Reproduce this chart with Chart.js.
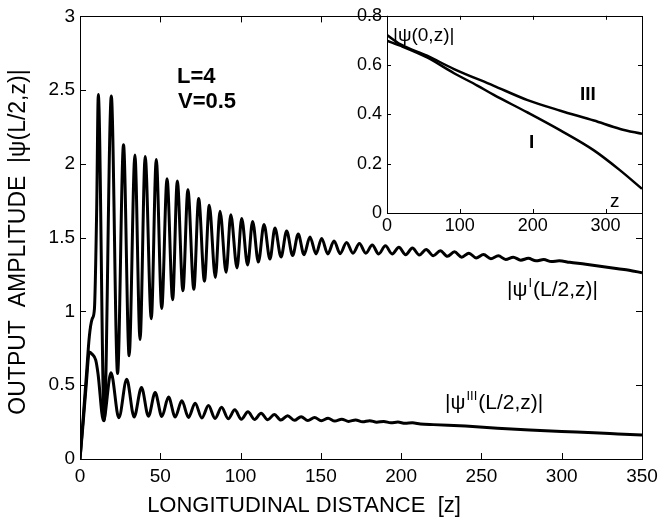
<!DOCTYPE html>
<html>
<head>
<meta charset="utf-8">
<script src="https://cdn.jsdelivr.net/npm/chart.js@4.4.1/dist/chart.umd.min.js"></script>
<style>
  body { margin: 0; background: #fff; }
  #wrap { position: relative; width: 664px; height: 518px; }
  #main { position: absolute; left: 0; top: 0; }
  #inset { position: absolute; left: 345px; top: 0; }
</style>
</head>
<body>
<div id="wrap">
  <canvas id="main" width="664" height="518"></canvas>
  <canvas id="inset" width="319" height="240"></canvas>
</div>
<script>
'use strict';

// main plot, |psi^I(L/2,z)| : peaks and troughs
const zI = [0, 2, 4, 5.8, 7.6, 9, 10.4, 11.4, 15.1, 19.5, 23.4, 27.1, 30.6, 34.2, 37.4, 40.6, 44.4, 47.5,
  50.9, 54.2, 57.7, 60.6, 64.1, 67.2, 70.9, 73.9, 77.5, 80.5, 84.3, 87.2, 91, 93.9, 97.8, 100.7,
  104.4, 107.5, 111.1, 114.6, 118.3, 121.4, 125.2, 128.7, 132.4, 135.9, 139.5, 143.2, 147, 150.5,
  154.3, 158.2, 162, 166, 170, 174, 178, 182, 186, 190.2, 194.4, 198.6, 202.8, 207, 211.3, 215.6,
  220, 224.4, 228.8, 233.2, 237.7, 242.2, 246.7, 251.3, 255.9, 260.5, 265.1, 269.8, 274.5, 279.2,
  284, 288.8, 293.6, 298.4, 305, 315, 325, 335, 342, 350];
const ampI = [0, 0.28, 0.57, 0.83, 0.95, 1.02, 1.7, 2.47, 0.26, 2.46, 0.58, 2.13, 0.70, 2.06, 0.81, 2.05, 0.95, 2.03,
  1.02, 1.90, 1.08, 1.885, 1.14, 1.825, 1.15, 1.765, 1.205, 1.72, 1.23, 1.68, 1.265, 1.655, 1.295, 1.63,
  1.315, 1.61, 1.335, 1.59, 1.355, 1.565, 1.37, 1.545, 1.38, 1.525, 1.385, 1.505, 1.39, 1.495,
  1.39, 1.478, 1.392, 1.468, 1.395, 1.46, 1.395, 1.45, 1.39, 1.445, 1.39, 1.435, 1.385, 1.43, 1.383, 1.42,
  1.378, 1.412, 1.374, 1.404, 1.368, 1.395, 1.363, 1.386, 1.358, 1.377, 1.353, 1.368, 1.348, 1.36,
  1.343, 1.352, 1.338, 1.343, 1.333, 1.32, 1.305, 1.29, 1.28, 1.262];

// main plot, |psi^III(L/2,z)|
const zIII = [0, 2, 4, 5.8, 7.6, 9.8, 11.2, 14.6, 19.3, 24.2, 29.1, 33.7, 38.3, 42.6, 46.8, 51, 55.1,
  59.3, 63.4, 67.6, 71.7, 75.9, 80, 84.1, 88.2, 92.3, 96.4, 100.5, 104.6, 108.7, 112.8, 116.9, 121,
  125.1, 129.3, 133.5, 137.7, 141.9, 146.1, 150.3, 154.5, 158.7, 163, 167.3, 171.6, 176, 180.4,
  184.8, 189.2, 193.6, 198, 202.5, 207, 212, 220, 240, 260, 280, 300, 320, 335, 350];
const ampIII = [0, 0.25, 0.52, 0.725, 0.71, 0.67, 0.58, 0.26, 0.585, 0.28, 0.54, 0.285, 0.485, 0.29, 0.45, 0.288, 0.42,
  0.285, 0.395, 0.282, 0.378, 0.278, 0.362, 0.275, 0.35, 0.273, 0.333, 0.27, 0.32, 0.268, 0.31, 0.266, 0.302,
  0.264, 0.293, 0.262, 0.287, 0.261, 0.282, 0.259, 0.276, 0.257, 0.27, 0.255, 0.265, 0.252, 0.26,
  0.249, 0.255, 0.245, 0.25, 0.242, 0.245, 0.238, 0.233, 0.223, 0.209, 0.197, 0.187, 0.178, 0.17, 0.162];

// inset, |psi(0,z)|
const zInI = [0, 18, 55, 92, 124, 146, 192, 238, 284, 320, 350];
const ampInI = [0.699, 0.679, 0.631, 0.567, 0.517, 0.48, 0.409, 0.335, 0.254, 0.173, 0.098];
const zInIII = [0, 18, 55, 92, 146, 192, 238, 284, 320, 350];
const ampInIII = [0.722, 0.685, 0.638, 0.584, 0.517, 0.459, 0.415, 0.375, 0.341, 0.321];

const FONT = "'Liberation Sans', Arial, Helvetica, sans-serif";

function toPoints(xs, ys) {
  let pts = [];
  for (let i = 0; i < xs.length; i++) {
    pts.push({ x: xs[i], y: ys[i] });
  }
  return pts;
}

function lineSet(xs, ys, w) {
  return {
    data: toPoints(xs, ys),
    borderColor: '#000',
    borderWidth: w,
    pointRadius: 0,
    fill: false,
    cubicInterpolationMode: 'monotone'
  };
}

// box round the plot area, with MATLAB style ticks pointing inwards on all four sides
function boxPlugin(len) {
  return {
    id: 'box',
    beforeDraw(chart) {
      const a = chart.chartArea;
      const ctx = chart.ctx;
      ctx.save();
      ctx.fillStyle = '#fff';
      ctx.fillRect(a.left, a.top, a.right - a.left, a.bottom - a.top);
      ctx.restore();
    },
    afterDraw(chart) {
      const a = chart.chartArea;
      const ctx = chart.ctx;
      const sx = chart.scales.x;
      const sy = chart.scales.y;
      ctx.save();
      ctx.strokeStyle = '#000';
      ctx.lineWidth = 1;
      ctx.beginPath();
      sx.ticks.forEach(t => {
        const px = Math.round(sx.getPixelForValue(t.value)) + 0.5;
        ctx.moveTo(px, a.bottom);
        ctx.lineTo(px, a.bottom - len);
        ctx.moveTo(px, a.top);
        ctx.lineTo(px, a.top + len);
      });
      sy.ticks.forEach(t => {
        const py = Math.round(sy.getPixelForValue(t.value)) + 0.5;
        ctx.moveTo(a.left, py);
        ctx.lineTo(a.left + len, py);
        ctx.moveTo(a.right, py);
        ctx.lineTo(a.right - len, py);
      });
      ctx.stroke();
      ctx.strokeRect(Math.round(a.left) + 0.5, Math.round(a.top) + 0.5,
        Math.round(a.right - a.left), Math.round(a.bottom - a.top));
      ctx.restore();
    }
  };
}

// |psi^sup(L/2,z)| with a small raised index
function psiLabel(ctx, x, y, sup, size) {
  ctx.font = size + 'px ' + FONT;
  ctx.fillText('|\u03c8', x, y);
  x += ctx.measureText('|\u03c8').width + 1;
  ctx.font = Math.round(size * 0.62) + 'px ' + FONT;
  ctx.fillText(sup, x, y - size * 0.42);
  x += ctx.measureText(sup).width + 1;
  ctx.font = size + 'px ' + FONT;
  ctx.fillText('(L/2,z)|', x, y);
}

const mainText = {
  id: 'mainText',
  afterDraw(chart) {
    const ctx = chart.ctx;
    ctx.save();
    ctx.fillStyle = '#000';
    ctx.textBaseline = 'alphabetic';

    ctx.textAlign = 'center';
    ctx.font = '22px ' + FONT;
    ctx.fillText('LONGITUDINAL DISTANCE  [z]', 304, 512);

    ctx.save();
    ctx.translate(25, 242);
    ctx.rotate(-Math.PI / 2);
    ctx.font = '23px ' + FONT;
    ctx.fillText('OUTPUT  AMPLITUDE  |\u03c8(L/2,z)|', 0, 0);
    ctx.restore();

    ctx.textAlign = 'left';
    ctx.font = 'bold 22px ' + FONT;
    ctx.fillText('L=4', 177, 83);
    ctx.fillText('V=0.5', 178, 108);

    psiLabel(ctx, 507, 296, 'I', 21);
    psiLabel(ctx, 445, 409, 'III', 21);
    ctx.restore();
  }
};

const insetText = {
  id: 'insetText',
  afterDraw(chart) {
    const ctx = chart.ctx;
    ctx.save();
    ctx.fillStyle = '#000';
    ctx.textAlign = 'left';
    ctx.textBaseline = 'alphabetic';
    ctx.font = '19px ' + FONT;
    ctx.fillText('|\u03c8(0,z)|', 48, 41);
    ctx.fillText('z', 265, 207);
    ctx.font = 'bold 19px ' + FONT;
    ctx.fillText('III', 235, 100);
    ctx.fillText('I', 184, 148);
    ctx.restore();
  }
};

function tickOpts(size, pad, step) {
  return {
    stepSize: step,
    color: '#000',
    padding: pad,
    maxRotation: 0,
    autoSkip: false,
    includeBounds: false,
    font: { family: FONT, size: size },
    // plain labels like MATLAB: 0, 0.5, 1, 1.5 ...
    callback: v => String(Math.round(v * 10) / 10)
  };
}

new Chart(document.getElementById('main'), {
  type: 'line',
  data: {
    datasets: [lineSet(zI, ampI, 3), lineSet(zIII, ampIII, 3)]
  },
  options: {
    responsive: false,
    animation: false,
    layout: { padding: { top: 15, right: 22, left: 0, bottom: 0 } },
    plugins: { legend: { display: false }, tooltip: { enabled: false } },
    scales: {
      x: {
        type: 'linear', min: 0, max: 350,
        ticks: tickOpts(19, 6, 50),
        grid: { display: false, drawTicks: false },
        border: { display: false },
        afterFit: s => { s.height = 59; }
      },
      y: {
        type: 'linear', min: 0, max: 3,
        ticks: tickOpts(19, 5, 0.5),
        grid: { display: false, drawTicks: false },
        border: { display: false },
        afterFit: s => { s.width = 80; }
      }
    }
  },
  plugins: [boxPlugin(6), mainText]
});

new Chart(document.getElementById('inset'), {
  type: 'line',
  data: {
    datasets: [lineSet(zInI, ampInI, 2.5), lineSet(zInIII, ampInIII, 2.5)]
  },
  options: {
    responsive: false,
    animation: false,
    layout: { padding: { top: 15, right: 22, left: 0, bottom: 0 } },
    plugins: { legend: { display: false }, tooltip: { enabled: false } },
    scales: {
      x: {
        type: 'linear', min: 0, max: 350,
        ticks: tickOpts(18, 2, 100),
        grid: { display: false, drawTicks: false },
        border: { display: false },
        afterFit: s => { s.height = 27; }
      },
      y: {
        type: 'linear', min: 0, max: 0.8,
        ticks: tickOpts(18, 5, 0.2),
        grid: { display: false, drawTicks: false },
        border: { display: false },
        afterFit: s => { s.width = 42; }
      }
    }
  },
  plugins: [boxPlugin(4), insetText]
});
</script>
</body>
</html>
